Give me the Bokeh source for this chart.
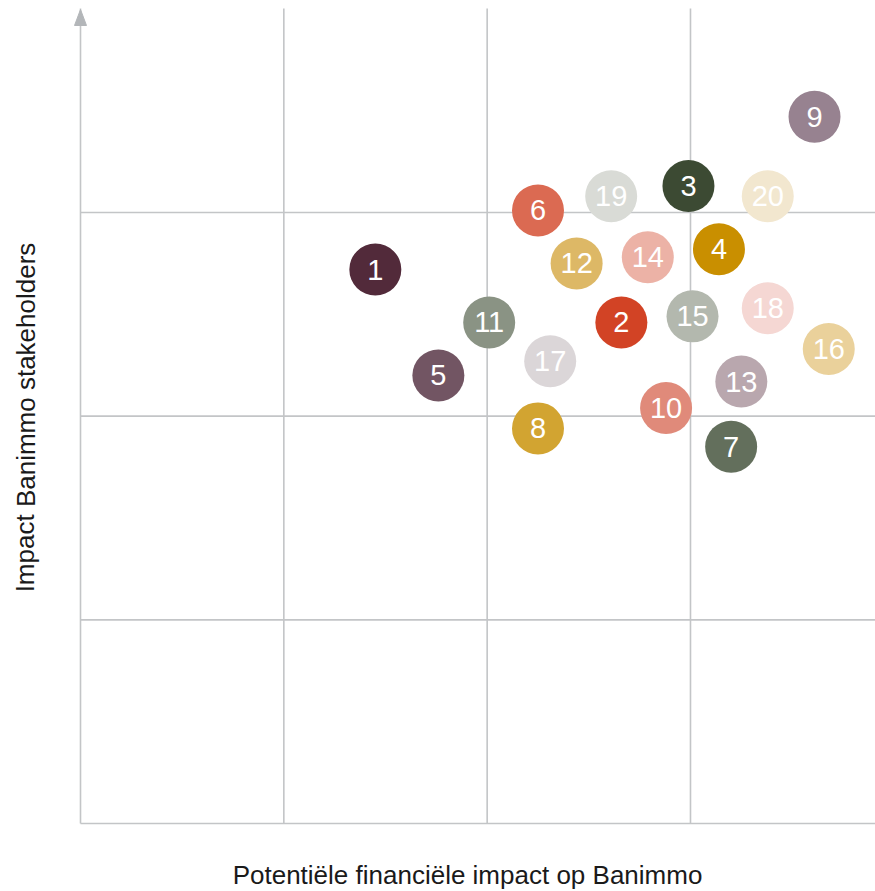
from bokeh.plotting import figure
from bokeh.models import Range1d, ColumnDataSource
from bokeh.core.properties import value
from bokeh.embed import file_html
from bokeh.resources import INLINE

# Data
labels = ["1", "2", "3", "4", "5", "6", "7", "8", "9", "10",
          "11", "12", "13", "14", "15", "16", "17", "18", "19", "20"]
financial_impact = [1.45, 2.66, 2.99, 3.14, 1.76, 2.25, 3.20, 2.25, 3.61, 2.88,
                    2.01, 2.44, 3.25, 2.79, 3.01, 3.68, 2.31, 3.38, 2.61, 3.38]
stakeholder_impact = [2.72, 2.46, 3.13, 2.82, 2.20, 3.01, 1.85, 1.94, 3.47, 2.04,
                      2.46, 2.75, 2.17, 2.78, 2.49, 2.33, 2.27, 2.53, 3.08, 3.08]
colors = ["#522a3a", "#d24325", "#3c4a33", "#c98f00", "#725563",
          "#db6a52", "#636f5c", "#d2a431", "#978290", "#e08a7a",
          "#8a9384", "#ddb866", "#b9a7ae", "#ecb2a6", "#b3b8ae",
          "#ead19b", "#dbd6d8", "#f5d7d3", "#d9dbd6", "#f2e7cf"]
grid_ticks = [0, 1, 2, 3]
x_title = "Potentiële financiële impact op Banimmo"
y_title = "Impact Banimmo stakeholders"

# Canvas geometry (pixels) -> data ranges; the frame covers the whole canvas
W, H = 875, 891
X0_PX, Y0_PX = 80, 823          # pixel position of data origin
UX, UY = 203.33, 203.67         # pixels per data unit
x_lo, x_hi = -X0_PX / UX, (W - X0_PX) / UX
y_lo, y_hi = (Y0_PX - H) / UY, Y0_PX / UY
y_top = (Y0_PX - 8) / UY        # top of the plotting area

p = figure(width=W, height=H, output_backend="svg", toolbar_location=None,
           x_range=Range1d(x_lo, x_hi), y_range=Range1d(y_lo, y_hi),
           min_border=0, min_border_left=0, min_border_right=0,
           min_border_top=0, min_border_bottom=0)
p.xaxis.visible = False
p.yaxis.visible = False
p.xgrid.visible = False
p.ygrid.visible = False
p.outline_line_color = None
p.background_fill_color = "white"
p.border_fill_color = "white"

grid_color = "#c3c5c7"
# vertical grid lines (x = 0 is the y axis)
p.segment(x0=grid_ticks, y0=[0] * len(grid_ticks), x1=grid_ticks,
          y1=[y_top] * len(grid_ticks), line_color=grid_color, line_width=1.6)
# horizontal grid lines (y = 0 is the x axis)
p.segment(x0=[0] * len(grid_ticks), y0=grid_ticks, x1=[x_hi] * len(grid_ticks),
          y1=grid_ticks, line_color=grid_color, line_width=1.6)

# arrow head on the y axis
tip_y = (Y0_PX - 9) / UY
p.patch(x=[0, 6 / UX, -6 / UX], y=[tip_y, tip_y - 16 / UY, tip_y - 16 / UY],
        fill_color="#b3b6b9", line_color="#b3b6b9", line_width=1)

source = ColumnDataSource(dict(x=financial_impact, y=stakeholder_impact,
                               label=labels, color=colors))
p.scatter("x", "y", source=source, size=52, fill_color="color", line_color=None)
p.text("x", "y", text="label", source=source, text_color="white",
       text_font=value("Liberation Sans"), text_font_size="29px",
       text_align="center", text_baseline="middle")

# axis titles
p.text(x=[(467 - X0_PX) / UX], y=[(Y0_PX - 874) / UY], text=[x_title],
       text_font=value("Liberation Sans"), text_font_size="26px",
       text_color="#1a1a1a", text_align="center", text_baseline="alphabetic")
p.text(x=[(25 - X0_PX) / UX], y=[(Y0_PX - 417) / UY], text=[y_title],
       text_font=value("Liberation Sans"), text_font_size="26px",
       text_color="#1a1a1a", text_align="center", text_baseline="alphabetic",
       angle=1.5707963)

open("out.html", "w").write(file_html(p, INLINE))
